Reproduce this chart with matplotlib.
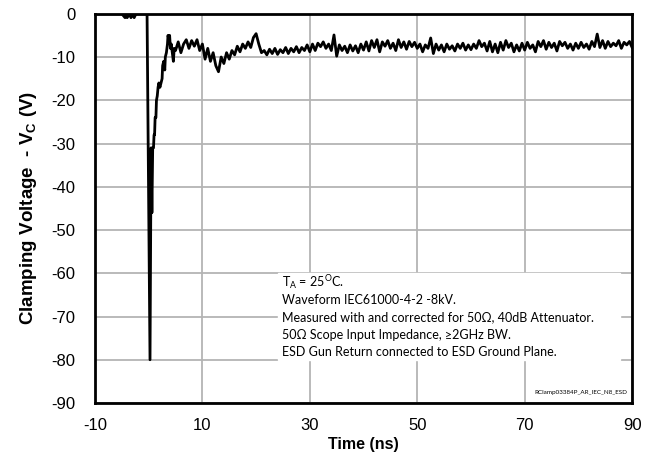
import numpy as np
import matplotlib.pyplot as plt

plt.rcParams['font.family'] = ['Liberation Sans', 'DejaVu Sans']
plt.rcParams['axes.unicode_minus'] = False

# pre-pulse baseline and the ESD spike (ns, V)
t_pulse = [-10, -5.0, -4.4, -4.2, -4.0, -3.6, -3.3, -3.0, -2.7, -2.4, -2.2, -1.5, -0.3,
           0.25, 0.45, 0.6, 0.75, 0.9, 1.0, 1.1, 1.2, 1.35, 1.45, 1.6, 1.75, 1.9,
           2.1, 2.3, 2.5, 2.6, 2.8, 3.0, 3.1, 3.3, 3.5, 3.6, 3.75, 3.9, 4.05, 4.2,
           4.4, 4.6, 4.75]
v_pulse = [0, 0, -0.9, 0, -0.9, 0, -0.9, -0.2, -0.9, -0.1, 0, 0, 0,
           -80, -31, -46, -31, -31, -28, -28, -24, -24, -20, -19, -17, -16,
           -17, -16, -15, -12, -11, -13, -10, -9, -7, -5, -6, -5, -8, -7,
           -9, -11, -8]

# settled tail, sampled every 0.5 ns from 5 to 90 ns
t_tail = np.arange(5.0, 90.01, 0.5)
v_tail = [-8.5, -6.5, -9.0, -7.0, -6.0, -8.0, -6.2, -7.5, -6.0, -8.5, -7.0,
          -10.5, -8.0, -11.0, -9.0, -12.0, -13.4, -10.0, -11.5, -9.0, -10.5,
          -8.5, -9.5, -7.5, -8.8, -7.0, -8.0, -6.5, -7.8, -5.5, -4.6,
          -7.0, -9.0, -8.5, -9.5, -8.2, -9.2, -8.0, -9.4, -8.3, -9.0,
          -7.8, -9.2, -8.0, -8.8, -7.6, -9.0, -7.8, -8.5, -7.2, -8.8,
          -7.0, -8.5, -6.8, -7.6, -6.5, -8.0, -7.0, -8.5, -4.9, -9.8,
          -7.2, -8.5, -7.5, -9.0, -7.2, -8.6, -7.4, -9.0, -7.0, -8.4,
          -6.5, -8.6, -6.2, -7.8, -6.0, -8.8, -6.5, -7.5, -6.2, -8.0,
          -6.8, -8.5, -6.0, -7.8, -6.5, -8.2, -6.4, -7.6, -6.6, -8.0,
          -7.0, -8.8, -7.2, -8.0, -5.6, -9.2, -7.0, -8.4, -7.2, -8.8,
          -7.0, -8.2, -7.4, -8.6, -7.0, -8.0, -6.8, -8.4, -7.2, -8.3,
          -7.0, -8.0, -6.2, -7.6, -6.8, -8.6, -6.4, -8.8, -7.0, -9.0,
          -6.6, -8.4, -6.2, -7.8, -6.8, -8.8, -7.2, -8.6, -6.8, -8.4,
          -6.6, -8.0, -7.2, -8.8, -6.4, -7.6, -6.2, -8.2, -6.6, -7.8,
          -6.8, -8.6, -6.4, -7.4, -6.6, -8.0, -7.0, -8.4, -6.8, -8.0,
          -6.6, -7.8, -7.0, -8.2, -6.4, -7.6, -4.7, -7.8, -6.2, -8.0,
          -6.4, -7.6, -6.8, -7.4, -6.2, -8.0, -6.6, -7.2, -6.4, -7.8]

time = list(t_pulse) + list(t_tail)
volts = v_pulse + v_tail

x_ticks = [-10, 10, 30, 50, 70, 90]
y_ticks = list(range(0, -91, -10))

notes = ['T$_\\mathregular{A}$ = 25$^\\mathregular{O}$C.',
         'Waveform IEC61000-4-2 -8kV.',
         'Measured with and corrected for 50\u03a9, 40dB Attenuator.',
         '50\u03a9 Scope Input Impedance, \u22652GHz BW.',
         'ESD Gun Return connected to ESD Ground Plane.']

fig = plt.figure(figsize=(6.64, 4.59), dpi=100)
ax = fig.add_axes([0.143, 0.122, 0.809, 0.848])

ax.plot(time, volts, color='black', lw=2.0, zorder=3)

ax.set_xlim(-10, 90)
ax.set_ylim(-90, 0)
ax.set_xticks(x_ticks)
ax.set_yticks(y_ticks)
ax.grid(color='#b4b4b4', lw=1.3)
ax.set_axisbelow(True)
ax.tick_params(length=0, labelsize=12)
ax.tick_params(axis='y', pad=14)
ax.tick_params(axis='x', pad=11)
for s in ax.spines.values():
    s.set_linewidth(2.0)

ax.set_xlabel('Time (ns)', fontsize=11.5, fontweight='bold', labelpad=3)
ax.set_ylabel('Clamping Voltage  - V$_\\mathregular{C}$ (V)', fontsize=13.5,
              fontweight='bold', labelpad=9)

# white note box
fig.patches.append(plt.Rectangle((278 / 664, 1 - 360 / 459), 342 / 664, 87 / 459,
                                 transform=fig.transFigure, color='white', zorder=1))
for i, line in enumerate(notes):
    fig.text(282 / 664, 1 - (287 + i * 17.3) / 459, line, fontsize=9,
             family=['Lato', 'DejaVu Sans'], va='baseline', zorder=5)

ax.text(0.99, 0.02, 'RClamp03384P_AR_IEC_N8_ESD', transform=ax.transAxes,
        ha='right', va='bottom', fontsize=4.5, family=['Lato', 'DejaVu Sans'])

fig.savefig('out.png', dpi=100)
